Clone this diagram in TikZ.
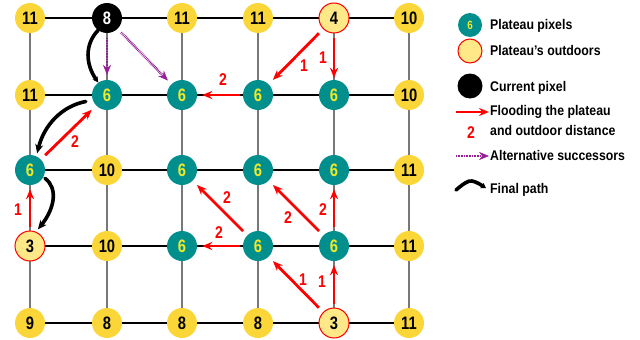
\documentclass[tikz,border=0pt]{standalone}
\usepackage{fontspec}
\setmainfont{Liberation Sans}[FakeStretch=0.88]
\newfontfamily\digfont{Liberation Sans}[FakeStretch=0.82]
\usetikzlibrary{arrows.meta,backgrounds}
\definecolor{gold}{RGB}{250,214,56}
\definecolor{tealc}{RGB}{0,143,140}
\definecolor{lightyel}{RGB}{255,232,135}
\definecolor{digyel}{RGB}{240,232,40}
\definecolor{purp}{RGB}{150,30,150}
\definecolor{gridgray}{RGB}{120,120,120}
\begin{document}
\begin{tikzpicture}[x=1pt,y=-1pt,
  px/.style={circle,minimum size=30pt,inner sep=0pt,font=\digfont\fontsize{18}{18}\selectfont\bfseries},
  yel/.style={px,fill=gold,text=black},
  plat/.style={px,fill=tealc,text=digyel},
  outd/.style={px,fill=lightyel,draw=red,line width=1pt,text=black},
  cur/.style={px,fill=black,text=white},
  hline/.style={black,line width=1.1pt},
  vline/.style={gridgray,line width=1.4pt},
  flood/.style={red,line width=2.8pt,-{Stealth[length=10pt,width=8pt]},shorten <=4pt,shorten >=4pt},
  alt/.style={purp,line width=2.6pt,dash pattern=on 0.8pt off 0.8pt,-{Stealth[length=10pt,width=8pt,fill=purp,line width=0.5pt]},shorten <=5pt,shorten >=5pt},
  final/.style={black,line width=3.6pt,line cap=round},
  finalar/.style={final,-{Stealth[length=9pt,width=8pt]}},
  lab/.style={red,font=\digfont\fontsize{17}{17}\selectfont\bfseries},
  legtxt/.style={anchor=base west,font=\fontsize{14}{14}\selectfont\bfseries,inner sep=0pt}
]
\useasboundingbox (0,0) rectangle (640,340);
% row 0
\node[yel]  (n00) at (30,18)  {11};
\node[cur]  (n10) at (107,18) {8};
\node[yel]  (n20) at (182,18) {11};
\node[yel]  (n30) at (258,18) {11};
\node[outd] (n40) at (334,18) {4};
\node[yel]  (n50) at (409,18) {10};
% row 1
\node[yel]  (n01) at (30,95)  {11};
\node[plat] (n11) at (107,95) {6};
\node[plat] (n21) at (182,95) {6};
\node[plat] (n31) at (258,95) {6};
\node[plat] (n41) at (334,95) {6};
\node[yel]  (n51) at (409,95) {10};
% row 2
\node[plat] (n02) at (30,170)  {6};
\node[yel]  (n12) at (107,170) {10};
\node[plat] (n22) at (182,170) {6};
\node[plat] (n32) at (258,170) {6};
\node[plat] (n42) at (334,170) {6};
\node[yel]  (n52) at (409,170) {11};
% row 3
\node[outd] (n03) at (30,246)  {3};
\node[yel]  (n13) at (107,246) {10};
\node[plat] (n23) at (182,246) {6};
\node[plat] (n33) at (258,246) {6};
\node[plat] (n43) at (334,246) {6};
\node[yel]  (n53) at (409,246) {11};
% row 4
\node[yel]  (n04) at (30,323)  {9};
\node[yel]  (n14) at (107,323) {8};
\node[yel]  (n24) at (182,323) {8};
\node[yel]  (n34) at (258,323) {8};
\node[outd] (n44) at (334,323) {3};
\node[yel]  (n54) at (409,323) {11};

\begin{scope}[on background layer]
  \foreach \r in {0,...,4} {\draw[hline] (n0\r.center) -- (n5\r.center);}
  \foreach \c in {0,...,5} {\draw[vline] (n\c0.center) -- (n\c4.center);}
\end{scope}

% flooding arrows
\draw[flood,shorten <=6pt,shorten >=6pt] (n40) -- (n31);
\draw[flood,shorten >=2pt] (n40) -- (n41);
\draw[flood,shorten <=3pt,shorten >=5pt] (n31) -- (n21);
\draw[flood,shorten <=6pt,shorten >=6pt] (n02) -- (n11);
\draw[flood] (n03) -- (n02);
\draw[flood] (n44) -- (n43);
\draw[flood,shorten <=6pt,shorten >=6pt] (n44) -- (n33);
\draw[flood] (n43) -- (n42);
\draw[flood,shorten <=6pt,shorten >=6pt] (n43) -- (n32);
\draw[flood,shorten <=6pt,shorten >=6pt] (n33) -- (n22);
\draw[flood,shorten <=3pt,shorten >=5pt] (n33) -- (n23);
% labels
\node[lab] (l1) at (304,66) {1};
\node[lab] (l2) at (323,58) {1};
\node[lab] (l3) at (223,80) {2};
\node[lab] (l4) at (75,142) {2};
\node[lab] (l5) at (18,210) {1};
\node[lab] (l6) at (322,282) {1};
\node[lab] (l7) at (303,280) {1};
\node[lab] (l8) at (323,210) {2};
\node[lab] (l9) at (288,218) {2};
\node[lab] (l10) at (227,198) {2};
\node[lab] (l11) at (219,233) {2};

% alternative successors
\draw[alt] (n10) -- (n11);
\draw[alt] (n10) -- (n21);

% final path
\draw[final,-{Stealth[length=6pt,width=6pt]}] (n10.234) .. controls (84,45) and (86,65) .. (n11.125);
\draw[finalar,shorten <=7pt,shorten >=3pt] (n11.200) .. controls (62,106) and (44,125) .. (n02.65);
\draw[finalar,shorten <=2pt,shorten >=3pt] (n02.332) .. controls (58,188) and (55,208) .. (n03.67);

% legend
\node[plat,minimum size=24pt,font=\digfont\fontsize{12}{12}\selectfont\bfseries] (g1) at (470,25) {6};
\node[outd,minimum size=24pt] (g2) at (470,51) {};
\node[cur,minimum size=25pt] (g3) at (470,86) {};
\coordinate (g4a) at (456,112);
\coordinate (g4b) at (489,112);
\draw[flood,shorten <=0pt,shorten >=0pt] (g4a) -- (g4b);
\node[lab] (g4l) at (471,133) {2};
\coordinate (g5a) at (456,156);
\coordinate (g5b) at (489,156);
\draw[alt,shorten <=0pt,shorten >=0pt] (g5a) -- (g5b);
\coordinate (g6a) at (456,190);
\coordinate (g6b) at (486,188);
\draw[final,-{Stealth[length=5pt,width=6pt]}] (g6a) .. controls (462,185) and (468,180) .. (472,181) .. controls (477,182) and (481,185) .. (g6b);

\node[legtxt] (t1) at (490,29) {Plateau pixels};
\node[legtxt] (t2) at (490,55) {Plateau’s outdoors};
\node[legtxt] (t3) at (490,91) {Current pixel};
\node[legtxt] (t4) at (490,115) {Flooding the plateau};
\node[legtxt] (t5) at (490,135) {and outdoor distance};
\node[legtxt] (t6) at (490,160) {Alternative successors};
\node[legtxt] (t7) at (490,193) {Final path};
\end{tikzpicture}
\end{document}
